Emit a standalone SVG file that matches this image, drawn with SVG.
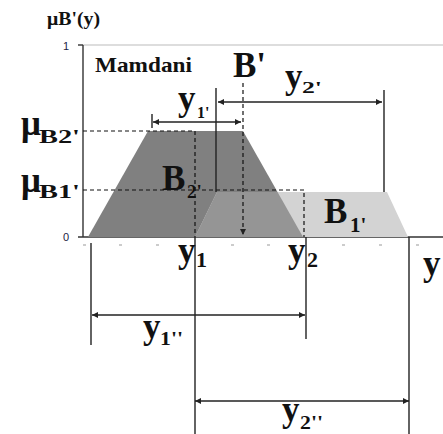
<svg xmlns="http://www.w3.org/2000/svg" width="443" height="434" viewBox="0 0 443 434">
<style>
.big{font-family:"Liberation Serif","Times New Roman",serif;font-weight:bold;font-size:35px;fill:#111}
.sub{font-family:"Liberation Serif","Times New Roman",serif;font-weight:bold;fill:#111}
.sm{font-family:"Liberation Sans",Arial,sans-serif;font-size:11px;fill:#222244}
.ax{stroke:#333;stroke-width:1.4;fill:none}
.sol{stroke:#222;stroke-width:1.4;fill:none}
.dash{stroke:#111;stroke-width:1.2;stroke-dasharray:4 3;fill:none}
.tk{stroke:#999;stroke-width:1;fill:none}
</style>
<defs>
<marker id="ah" viewBox="0 0 10 10" refX="10" refY="5" markerWidth="6" markerHeight="6" markerUnits="userSpaceOnUse" orient="auto-start-reverse">
<path d="M0,0 L10,5 L0,10 z" fill="#222"/>
</marker>
</defs>
<g id="frame">
<line x1="83" y1="45" x2="443" y2="45" stroke="#dddddd" stroke-width="2"/>
<line class="ax" x1="83" y1="45" x2="83" y2="237"/>
<line class="ax" x1="78" y1="45" x2="83" y2="45"/>
<line class="ax" x1="78" y1="237" x2="443" y2="237"/>
<g class="tk">
<line x1="83" y1="245" x2="86" y2="245"/><line x1="119" y1="245" x2="122" y2="245"/><line x1="156" y1="245" x2="159" y2="245"/><line x1="231" y1="245" x2="234" y2="245"/><line x1="267" y1="245" x2="270" y2="245"/><line x1="342" y1="245" x2="345" y2="245"/><line x1="379" y1="245" x2="382" y2="245"/><line x1="416" y1="245" x2="419" y2="245"/>
</g>
</g>
<g id="B2">
<polygon points="88,237 148,131 243,131 303,237" fill="#808080"/>
</g>
<g id="B1">
<polygon points="195,237 217,192 387,192 408,237" fill="#d3d3d3"/>
<polygon points="195,237 217,192 277.5,192 303,237" fill="#959595"/>
</g>
<g id="connectors">
<path class="dash" d="M83,131 H195 V237"/>
<path class="dash" d="M83,190 H304 V237"/>
<path class="dash" d="M243,83 V235" marker-end="url(#ah)"/>
<line class="sol" x1="216" y1="88" x2="216" y2="192"/>
<line class="sol" x1="384" y1="90" x2="384" y2="192"/>
<line class="sol" x1="218" y1="102" x2="382" y2="102" marker-start="url(#ah)" marker-end="url(#ah)"/>
<line class="sol" x1="152" y1="114" x2="152" y2="128"/>
<line class="sol" x1="153" y1="122" x2="241" y2="122" marker-start="url(#ah)" marker-end="url(#ah)"/>
<line class="sol" x1="91" y1="243" x2="91" y2="345"/>
<line class="sol" x1="195" y1="237" x2="195" y2="434"/>
<line class="sol" x1="306" y1="237" x2="306" y2="339"/>
<line class="sol" x1="409" y1="237" x2="409" y2="434"/>
<line class="sol" x1="92" y1="315" x2="305" y2="315" marker-start="url(#ah)" marker-end="url(#ah)"/>
<line class="sol" x1="195" y1="401" x2="409" y2="401" marker-start="url(#ah)" marker-end="url(#ah)"/>
</g>
<g id="labels">
<text class="sub" x="47" y="25" font-size="18" textLength="53" lengthAdjust="spacingAndGlyphs">μB'(y)</text>
<text class="sm" x="63" y="50">1</text>
<text class="sm" x="63" y="241">0</text>
<text class="sub" x="95" y="72" font-size="22" textLength="97" lengthAdjust="spacingAndGlyphs">Mamdani</text>
<text class="big" x="233" y="77">B'</text>
<text class="big" x="285" y="88">y</text><text class="sub" x="302" y="93" font-size="17" textLength="20" lengthAdjust="spacingAndGlyphs">2'</text>
<text class="big" x="178" y="110">y</text><text class="sub" x="197" y="118" font-size="16">1'</text>
<text class="big" x="21" y="135">μ</text><text class="sub" x="39" y="143" font-size="18" textLength="41" lengthAdjust="spacingAndGlyphs">B2'</text>
<text class="big" x="21" y="192">μ</text><text class="sub" x="39" y="198" font-size="18" textLength="41" lengthAdjust="spacingAndGlyphs">B1'</text>
<text class="big" x="162" y="190">B</text><text class="sub" x="187" y="198" font-size="19">2'</text>
<text class="big" x="324" y="223">B</text><text class="sub" x="350" y="232" font-size="21">1'</text>
<text class="big" x="178" y="262">y</text><text class="sub" x="196" y="267" font-size="22">1</text>
<text class="big" x="288" y="262">y</text><text class="sub" x="307" y="267" font-size="22">2</text>
<text class="big" x="423" y="275">y</text>
<text class="big" x="143" y="338">y</text><text class="sub" x="160" y="345" font-size="19" textLength="23" lengthAdjust="spacingAndGlyphs">1''</text>
<text class="big" x="282" y="421">y</text><text class="sub" x="300" y="429" font-size="19" textLength="23" lengthAdjust="spacingAndGlyphs">2''</text>
</g>
</svg>
